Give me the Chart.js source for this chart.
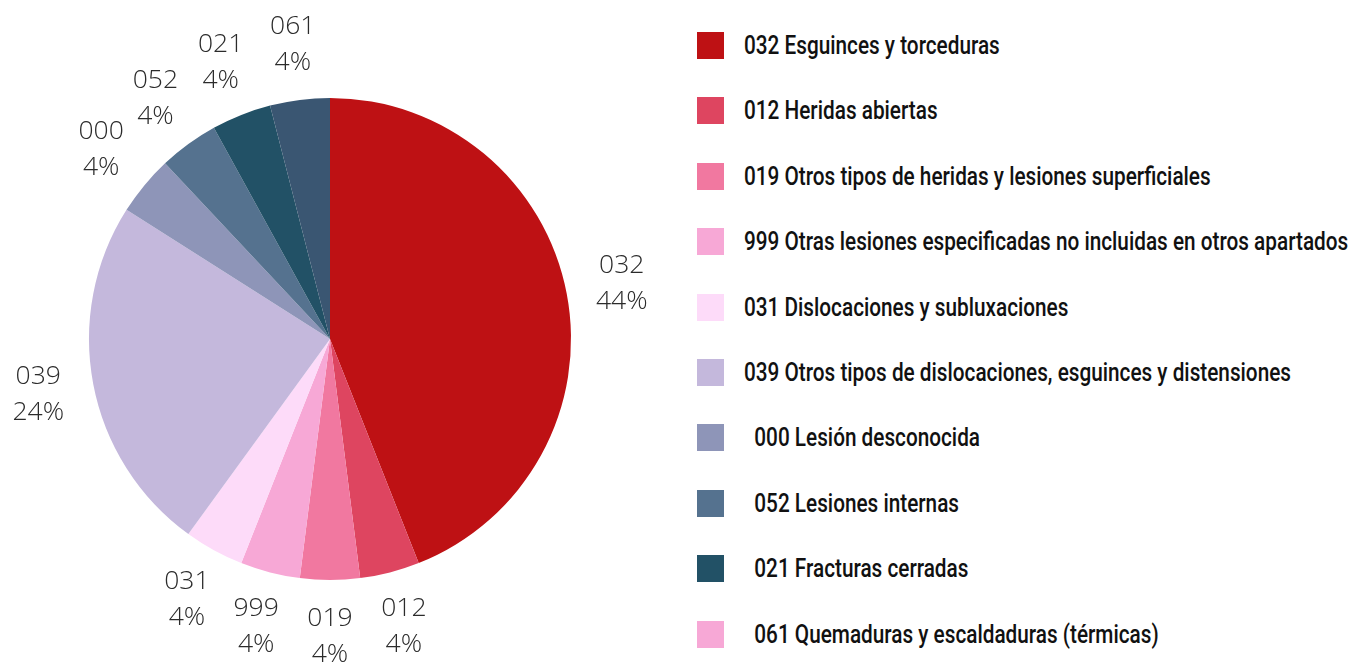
<!DOCTYPE html>
<html>
<head>
<meta charset="utf-8">
<script src="https://cdn.jsdelivr.net/npm/chart.js@4"></script>
<style>
  html, body { margin: 0; padding: 0; background: #fff; }
  #wrap { position: relative; width: 1354px; height: 664px; overflow: hidden; }
  #pieBox { position: absolute; left: 0; top: 0; width: 660px; height: 664px; }
  #legend { position: absolute; left: 697px; top: 32px; margin: 0; padding: 0; list-style: none; }
  #legend li { height: 65.4px; display: flex; align-items: flex-start; white-space: pre; }
  #legend .box { width: 27px; height: 27px; flex: none; }
  #legend .txt {
    margin-left: 20px; font-family: Roboto, sans-serif; font-weight: 500; font-size: 25px;
    line-height: 27px; color: #111; transform: scaleX(0.83); transform-origin: left center;
  }
</style>
</head>
<body>
<div id="wrap">
  <div id="pieBox"><canvas id="pie"></canvas></div>
  <ul id="legend"></ul>
</div>
<script>
const codes = ['032', '012', '019', '999', '031', '039', '000', '052', '021', '061'];
const names = [
  '032 Esguinces y torceduras',
  '012 Heridas abiertas',
  '019 Otros tipos de heridas y lesiones superficiales',
  '999 Otras lesiones especificadas no incluidas en otros apartados',
  '031 Dislocaciones y subluxaciones',
  '039 Otros tipos de dislocaciones, esguinces y distensiones',
  '  000 Lesión desconocida',
  '  052 Lesiones internas',
  '  021 Fracturas cerradas',
  '  061 Quemaduras y escaldaduras (térmicas)'
];
const counts = [11, 1, 1, 1, 1, 6, 1, 1, 1, 1];
const sliceColors = ['#be1114', '#de4560', '#f178a0', '#f7a8d6', '#fddbf9',
                     '#c4b8dc', '#8e95b8', '#55728f', '#225166', '#3a5672'];
// the original legend shows 061 with a pink swatch
const legendColors = ['#be1114', '#de4560', '#f178a0', '#f7a8d6', '#fddbf9',
                      '#c4b8dc', '#8e95b8', '#55728f', '#225166', '#f7a8d6'];

const total = counts.reduce((a, b) => a + b, 0);

const outsideLabels = {
  id: 'outsideLabels',
  afterDatasetsDraw(chart) {
    const ctx = chart.ctx;
    const meta = chart.getDatasetMeta(0);
    ctx.save();
    ctx.fillStyle = '#2b2b2b';
    ctx.font = '300 26.5px "Open Sans", sans-serif';
    ctx.textAlign = 'center';
    ctx.textBaseline = 'middle';
    meta.data.forEach((arc, i) => {
      const { x, y, startAngle, endAngle, outerRadius } = arc.getProps(['x', 'y', 'startAngle', 'endAngle', 'outerRadius'], true);
      const a = (startAngle + endAngle) / 2;
      const d = outerRadius + 56;
      const px = x + Math.cos(a) * d;
      const py = y + Math.sin(a) * d;
      const pct = Math.round(counts[i] / total * 100) + '%';
      ctx.fillText(codes[i], px, py - 18);
      ctx.fillText(pct, px, py + 18);
    });
    ctx.restore();
  }
};

new Chart(document.getElementById('pie'), {
  type: 'pie',
  data: {
    labels: names,
    datasets: [{ data: counts, backgroundColor: sliceColors, borderWidth: 0 }]
  },
  options: {
    responsive: true,
    maintainAspectRatio: false,
    animation: false,
    layout: { padding: { top: 98, bottom: 84, left: 89, right: 89 } },
    plugins: { legend: { display: false }, tooltip: { enabled: false } }
  },
  plugins: [outsideLabels]
});

const ul = document.getElementById('legend');
names.forEach((n, i) => {
  const li = document.createElement('li');
  li.innerHTML = `<span class="box" style="background:${legendColors[i]}"></span><span class="txt"></span>`;
  li.querySelector('.txt').textContent = n;
  ul.appendChild(li);
});
</script>
</body>
</html>
